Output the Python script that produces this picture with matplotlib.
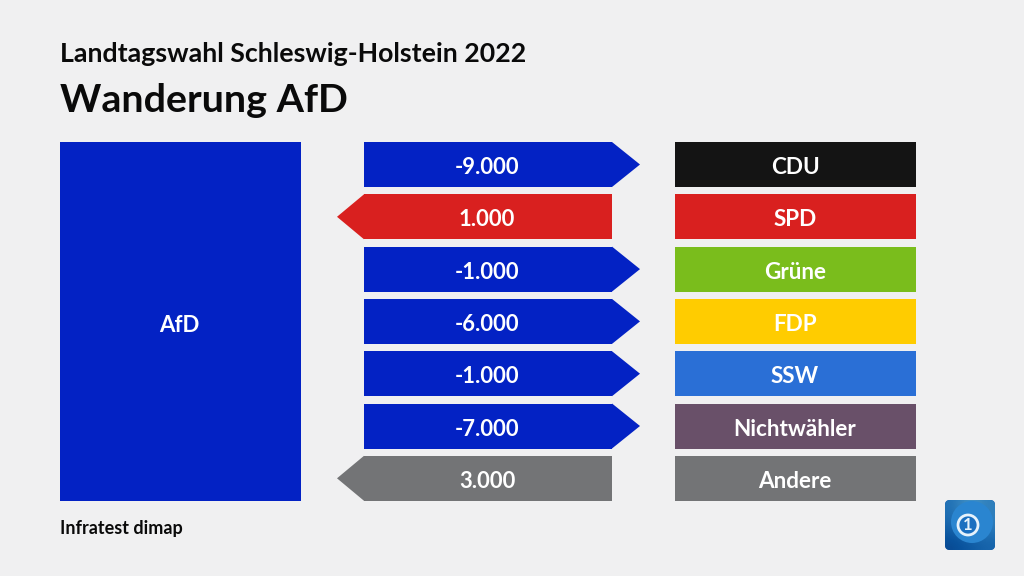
#!/usr/bin/env python3
# plot.py - Wanderung AfD, Landtagswahl Schleswig-Holstein 2022

import matplotlib
matplotlib.use('Agg')
import matplotlib.pyplot as plt
import numpy as np
from matplotlib.patches import Rectangle, Polygon, FancyBboxPatch, Circle

parties = ['CDU', 'SPD', 'Grüne', 'FDP', 'SSW', 'Nichtwähler', 'Andere']
values = [-9000, 1000, -1000, -6000, -1000, -7000, 3000]
party_colors = ['#141414', '#d9201f', '#7abd1c', '#ffcc00', '#2a6fd6', '#695069', '#737476']
afd_color = '#0322c4'
bg_color = '#f0f0f1'

plt.rcParams['font.family'] = ['Lato', 'DejaVu Sans']

fig = plt.figure(figsize=(10.24, 5.76), dpi=100, facecolor=bg_color)
# Achse in Pixeln wie im Original
ax = fig.add_axes([0, 0, 1, 1])
ax.set_xlim(0, 1024)
ax.set_ylim(576, 0)
ax.axis('off')

row_top = 142
row_pitch = 52.3
row_h = 45


def fmt(v):
    return f'{v:,}'.replace(',', '.')


ax.add_patch(Rectangle((60, 142), 241, 359, color=afd_color, lw=0))
ax.text(179.5, 325, 'AfD', color='white', fontsize=16, fontweight='bold', ha='center', va='center')

for i, (party, value, color) in enumerate(zip(parties, values, party_colors)):
    top = row_top + i * row_pitch
    mid = top + row_h / 2
    arrow_color = afd_color if value < 0 else color

    ax.add_patch(Rectangle((364, top), 248, row_h, color=arrow_color, lw=0))
    if value < 0:
        tip = [(612, top), (640, mid), (612, top + row_h)]
    else:
        tip = [(364, top), (337, mid), (364, top + row_h)]
    ax.add_patch(Polygon(tip, closed=True, color=arrow_color, lw=0))
    ax.text(487, mid + 3, fmt(value), color='white', fontsize=15.8, fontweight='bold', ha='center', va='center')

    ax.add_patch(Rectangle((675, top), 241, row_h, color=color, lw=0))
    ax.text(795, mid + 3, party, color='white', fontsize=16.2, fontweight='bold', ha='center', va='center')

ax.text(60, 53.5, 'Landtagswahl Schleswig-Holstein 2022', color='#0a0a0a', fontsize=19.3, fontweight='bold', va='center')
ax.text(60, 100.5, 'Wanderung AfD', color='#0a0a0a', fontsize=28.4, fontweight='bold', va='center')
ax.text(60, 528.5, 'Infratest dimap', color='#0a0a0a', fontsize=13, fontweight='bold', va='center')

# Logo unten rechts
logo = FancyBboxPatch((948, 503), 44, 44, boxstyle='round,pad=3,rounding_size=5', fc='#0b4fa8', lw=0)
ax.add_patch(logo)
grad = np.array([[0.15, 0.3, 0.2], [0.1, 0.25, 0.2], [0.0, 0.05, 0.1]])
img = ax.imshow(grad, extent=(945, 995, 550, 500), cmap='Blues_r', vmin=-0.1, vmax=0.9,
                interpolation='bicubic', aspect='auto', zorder=2)
img.set_clip_path(logo)
globe = Circle((972, 522), 21, fc='#2a85d0', ec='none', zorder=3)
ax.add_patch(globe)
globe.set_clip_path(logo)
ax.add_patch(Circle((968, 525), 10, fc='#1a6fc0', ec='#e6f2fb', lw=2, zorder=4))
ax.text(968, 525.5, '1', color='#e6f2fb', fontsize=12, fontweight='bold', ha='center', va='center', zorder=5)
ax.set_xlim(0, 1024)
ax.set_ylim(576, 0)

fig.savefig('out.png', dpi=100, facecolor=bg_color)
